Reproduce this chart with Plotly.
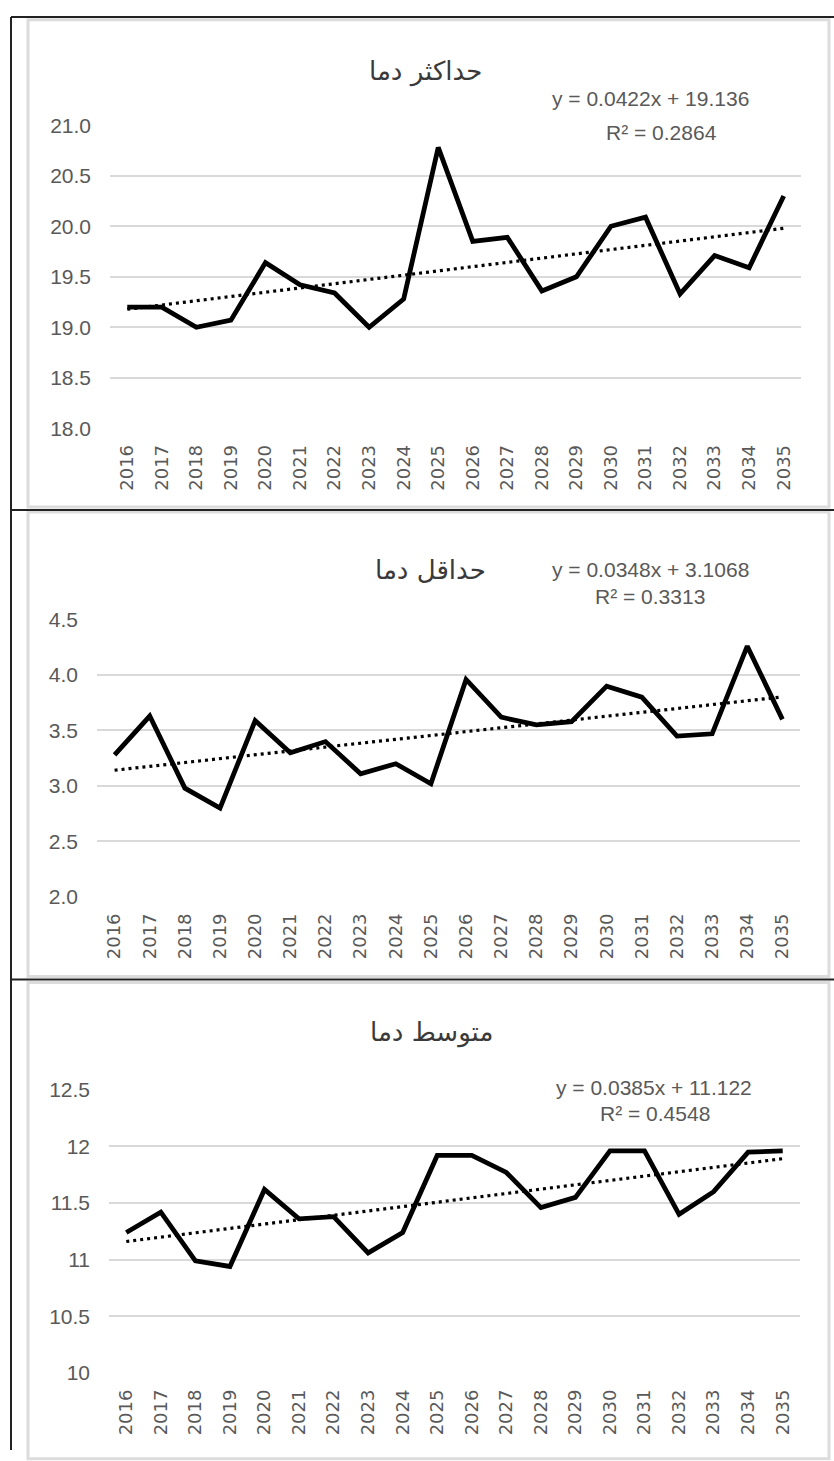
import plotly.graph_objects as go

W, H = 834, 1461

years = list(range(2016, 2036))
year_labels = [str(y) for y in years]

tmax = [19.20, 19.20, 19.00, 19.07, 19.64, 19.42, 19.34, 19.00, 19.28, 20.78,
        19.85, 19.89, 19.36, 19.50, 20.00, 20.09, 19.33, 19.71, 19.59, 20.30]
tmin = [3.28, 3.63, 2.98, 2.80, 3.59, 3.30, 3.40, 3.11, 3.20, 3.02,
        3.96, 3.62, 3.55, 3.58, 3.90, 3.80, 3.45, 3.47, 4.26, 3.60]
tavg = [11.24, 11.42, 10.99, 10.94, 11.62, 11.36, 11.38, 11.06, 11.24, 11.92,
        11.92, 11.77, 11.46, 11.55, 11.96, 11.96, 11.40, 11.60, 11.95, 11.96]

titles = ["حداکثر دما", "حداقل دما", "متوسط دما"]
slopes = [0.0422, 0.0348, 0.0385]
intercepts = [19.136, 3.1068, 11.122]
r2 = ["0.2864", "0.3313", "0.4548"]
eq_text = ["y = 0.0422x + 19.136", "y = 0.0348x + 3.1068", "y = 0.0385x + 11.122"]

def px_x(p):
    return p / W

def px_y(p):
    return 1 - p / H

panels = [
    dict(series=tmax, x0=110, x1=801, ytop=115, ybot=423, rng=[18, 21], dtick=0.5, fmt=".1f",
         tfs=21, title=(425, 60), eq=(650, 88), r=(661, 122), box=(8, 503)),
    dict(series=tmin, x0=97, x1=800, ytop=617.3, ybot=899, rng=[2.0, 4.5], dtick=0.5, fmt=".1f",
         tfs=21, title=(430, 567), eq=(650, 566), r=(650, 594), box=(508, 980)),
    dict(series=tavg, x0=109, x1=800, ytop=1095, ybot=1382.7, rng=[10, 12.5], dtick=0.5, fmt="",
         tfs=21, title=(431, 1037), eq=(654, 1093), r=(655, 1119), box=(986, 1470)),
]

fig = go.Figure()
annotations = []
shapes = []
grid = "#d9d9d9"
tick_col = "#595959"

for i, p in enumerate(panels):
    n = "" if i == 0 else str(i + 1)
    xa, ya = "x" + n, "y" + n
    idx = list(range(1, len(years) + 1))
    trend = [slopes[i] * k + intercepts[i] for k in idx]
    fig.add_trace(go.Scatter(x=years, y=trend, mode="lines", xaxis=xa, yaxis=ya,
                             line=dict(color="black", width=3.2, dash="3px,4px"),
                             showlegend=False, hoverinfo="skip"))
    fig.add_trace(go.Scatter(x=years, y=p["series"], mode="lines", xaxis=xa, yaxis=ya,
                             line=dict(color="black", width=4.8), showlegend=False))
    fig.update_layout(**{
        "xaxis" + n: dict(domain=[px_x(p["x0"]), px_x(p["x1"])], anchor=ya,
                          range=[2015.5, 2035.5], tickmode="array", tickvals=years,
                          ticktext=year_labels, tickangle=-90, showgrid=False,
                          zeroline=False, showline=False, ticklabelstandoff=12,
                          tickfont=dict(family="DejaVu Sans", size=18, color=tick_col)),
        "yaxis" + n: dict(domain=[px_y(p["ybot"]), px_y(p["ytop"])], anchor=xa,
                          range=p["rng"], dtick=p["dtick"], tick0=0, tickformat=p["fmt"],
                          showgrid=True, gridcolor=grid, gridwidth=1.5, zeroline=False,
                          showline=False, ticklabelstandoff=18,
                          tickfont=dict(family="Liberation Sans", size=p["tfs"], color=tick_col)),
    })
    annotations.append(dict(text=titles[i], x=px_x(p["title"][0]), y=px_y(p["title"][1]),
                            xref="paper", yref="paper", showarrow=False,
                            xanchor="center", yanchor="middle",
                            font=dict(family="DejaVu Sans", size=26, color="#3a3a3a")))
    annotations.append(dict(text=eq_text[i], x=px_x(p["eq"][0]), y=px_y(p["eq"][1]),
                            xref="paper", yref="paper", showarrow=False,
                            xanchor="center", yanchor="middle",
                            font=dict(family="Liberation Sans", size=21, color=tick_col)))
    annotations.append(dict(text="R² = " + r2[i], x=px_x(p["r"][0]), y=px_y(p["r"][1]),
                            xref="paper", yref="paper", showarrow=False,
                            xanchor="center", yanchor="middle",
                            font=dict(family="Liberation Sans", size=21, color=tick_col)))
    shapes.append(dict(type="rect", xref="paper", yref="paper",
                       x0=px_x(28), x1=px_x(829), y0=px_y(p["box"][1]), y1=px_y(p["box"][0]),
                       line=dict(color="#dcdcdc", width=3), layer="below"))

for y in [5, 506, 983]:
    shapes.append(dict(type="line", xref="paper", yref="paper",
                       x0=px_x(11), x1=1, y0=px_y(y), y1=px_y(y),
                       line=dict(color="#222222", width=2)))
shapes.append(dict(type="line", xref="paper", yref="paper",
                   x0=px_x(11), x1=px_x(11), y0=0, y1=px_y(5),
                   line=dict(color="#222222", width=2)))

fig.update_layout(width=W, height=H, margin=dict(l=0, r=0, t=0, b=0),
                  paper_bgcolor="white", plot_bgcolor="white",
                  annotations=annotations, shapes=shapes)

fig.write_html("out.html", config={"displayModeBar": False},
               post_script="document.body.style.margin='0';document.body.style.overflow='hidden';")
